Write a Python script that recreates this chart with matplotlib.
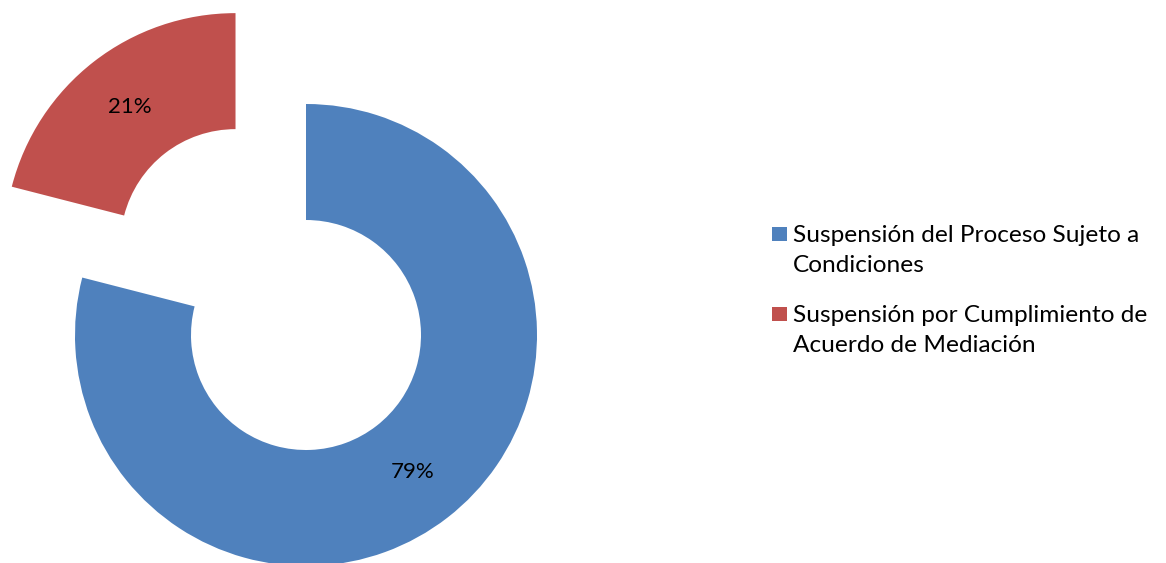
import matplotlib
matplotlib.use("Agg")
import matplotlib.pyplot as plt
from matplotlib.patches import Rectangle

categories = ["Suspensión del Proceso Sujeto a\nCondiciones",
              "Suspensión por Cumplimiento de\nAcuerdo de Mediación"]
values = [79, 21]
colors = ["#4F81BD", "#C0504D"]

plt.rcParams['font.family'] = ['Lato', 'DejaVu Sans']

W, H = 1166, 563
fig = plt.figure(figsize=(W / 100, H / 100), dpi=100)
ax = fig.add_axes([0, 0, 1, 1])
ax.set_xlim(0, W)
ax.set_ylim(0, H)
ax.set_aspect('equal')
ax.axis('off')

R = 231
wedges, texts, autotexts = ax.pie(
    values, colors=colors, startangle=90, counterclock=False,
    center=(306, H - 335), radius=R, explode=[0, 115],
    wedgeprops=dict(width=116, edgecolor='none'),
    autopct='%1.0f%%', pctdistance=0.75,
    textprops=dict(fontsize=16, color='black'))
ax.set_xlim(0, W)
ax.set_ylim(0, H)

# legend (square markers aligned with first line of each wrapped label)
entry_tops = [227, 307]
line_gap = 31
for cat, col, top in zip(categories, colors, entry_tops):
    fig.patches.append(Rectangle((772 / W, 1 - (top + 14) / H), 14.5 / W, 14 / H,
                                 transform=fig.transFigure, facecolor=col,
                                 edgecolor='none', figure=fig))
    for i, line in enumerate(cat.split("\n")):
        base = top + 14.5 + i * line_gap
        fig.text(793 / W, 1 - base / H, line, fontsize=17.6, color='black',
                 ha='left', va='baseline')

fig.savefig("out.png", dpi=100)
